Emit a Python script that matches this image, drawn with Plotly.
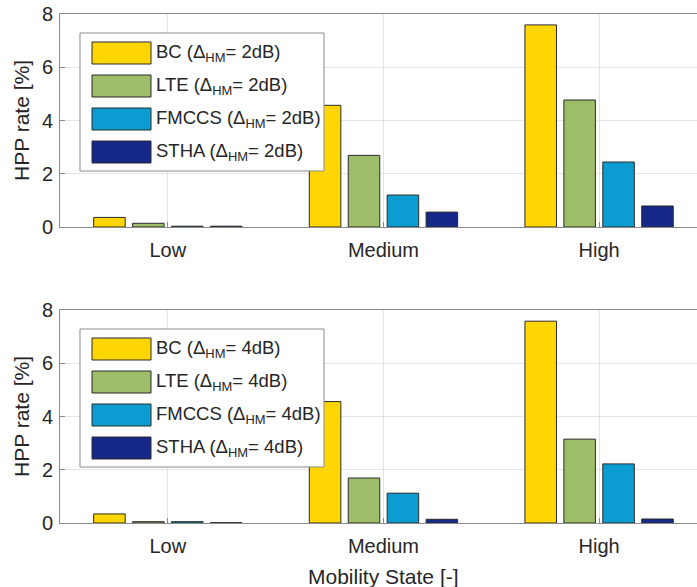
import plotly.graph_objects as go
from plotly.subplots import make_subplots

# Mobility states on the category axis
states = ["Low", "Medium", "High"]

# HPP rate [%] per handover scheme, hysteresis margin 2 dB
bc_2db = [0.36, 4.57, 7.59]
lte_2db = [0.14, 2.69, 4.77]
fmccs_2db = [0.03, 1.20, 2.44]
stha_2db = [0.03, 0.56, 0.79]

# HPP rate [%] per handover scheme, hysteresis margin 4 dB
bc_4db = [0.34, 4.56, 7.58]
lte_4db = [0.05, 1.69, 3.15]
fmccs_4db = [0.05, 1.12, 2.22]
stha_4db = [0.01, 0.14, 0.15]

schemes = ["BC", "LTE", "FMCCS", "STHA"]
colors = ["#FFD602", "#9DBD68", "#0B9DD2", "#15288A"]
y_ticks = [0, 2, 4, 6, 8]

W, H = 697, 587
ML, MR, MT, MB = 60, 0, 14, 64
PW, PH = W - ML - MR, H - MT - MB

TXT = "#262626"
FONT = "Liberation Sans, Arial, sans-serif"


def px_x(px):
    return (px - ML) / PW


def px_y(py):
    return (H - MB - py) / PH


fig = make_subplots(rows=2, cols=1, vertical_spacing=0.1)

panels = [
    (1, [bc_2db, lte_2db, fmccs_2db, stha_2db], "2dB"),
    (2, [bc_4db, lte_4db, fmccs_4db, stha_4db], "4dB"),
]
for row, series, _ in panels:
    for name, vals, col in zip(schemes, series, colors):
        fig.add_trace(
            go.Bar(
                x=states,
                y=vals,
                name=name,
                marker=dict(color=col, line=dict(color="#2a2a2a", width=1)),
                showlegend=False,
            ),
            row=row,
            col=1,
        )

# vertical placement of the two panels (pixel rows)
domains = {1: (14, 227), 2: (310, 523)}
for row, (top, bot) in domains.items():
    fig.update_yaxes(domain=[px_y(bot), px_y(top)], row=row, col=1)

fig.update_xaxes(
    range=[-0.5, 2.454],
    showgrid=True,
    gridcolor="#e4e4e4",
    gridwidth=1,
    showline=True,
    linecolor="#8a8a8a",
    linewidth=1,
    mirror=True,
    ticks="inside",
    ticklen=5,
    tickcolor="#8a8a8a",
    ticklabelstandoff=5,
    tickfont=dict(size=20, color=TXT, family=FONT),
    zeroline=False,
)
fig.update_yaxes(
    range=[0, 8],
    tickvals=y_ticks,
    showgrid=True,
    gridcolor="#e4e4e4",
    gridwidth=1,
    showline=True,
    linecolor="#8a8a8a",
    linewidth=1,
    ticks="inside",
    ticklen=5,
    tickcolor="#8a8a8a",
    ticklabelstandoff=2,
    tickfont=dict(size=20, color=TXT, family=FONT),
    zeroline=False,
    title=dict(text="HPP rate [%]", font=dict(size=21, color=TXT, family=FONT), standoff=6),
)

shapes = []
annotations = []

# legend boxes drawn over the bars
legend_tops = {1: 33, 2: 329}
for row, _, margin in panels:
    top = legend_tops[row]
    shapes.append(dict(
        type="rect", xref="paper", yref="paper",
        x0=px_x(80), x1=px_x(324), y0=px_y(top + 138), y1=px_y(top),
        fillcolor="white", line=dict(color="#8a8a8a", width=1), layer="above",
    ))
    for i, (name, col) in enumerate(zip(schemes, colors)):
        cy = top + 20 + 33 * i
        shapes.append(dict(
            type="rect", xref="paper", yref="paper",
            x0=px_x(92), x1=px_x(151), y0=px_y(cy + 11), y1=px_y(cy - 11),
            fillcolor=col, line=dict(color="#2a2a2a", width=1), layer="above",
        ))
        annotations.append(dict(
            xref="paper", yref="paper", x=px_x(154), y=px_y(cy),
            xanchor="left", yanchor="middle", showarrow=False,
            text=f"{name} (Δ<sub>HM</sub>= {margin})",
            font=dict(size=18.5, color=TXT, family=FONT),
        ))

# x-axis title centred on the full category span
annotations.append(dict(
    xref="x2", yref="paper", x=1, y=px_y(576),
    xanchor="center", yanchor="middle", showarrow=False,
    text="Mobility State [-]",
    font=dict(size=21, color=TXT, family=FONT),
))

fig.update_layout(
    width=W,
    height=H,
    margin=dict(l=ML, r=MR, t=MT, b=MB),
    paper_bgcolor="white",
    plot_bgcolor="white",
    barmode="group",
    bargap=0.278,
    bargroupgap=0.19,
    shapes=shapes,
    annotations=annotations,
    font=dict(family=FONT, color=TXT),
)

fig.write_html("out.html")
